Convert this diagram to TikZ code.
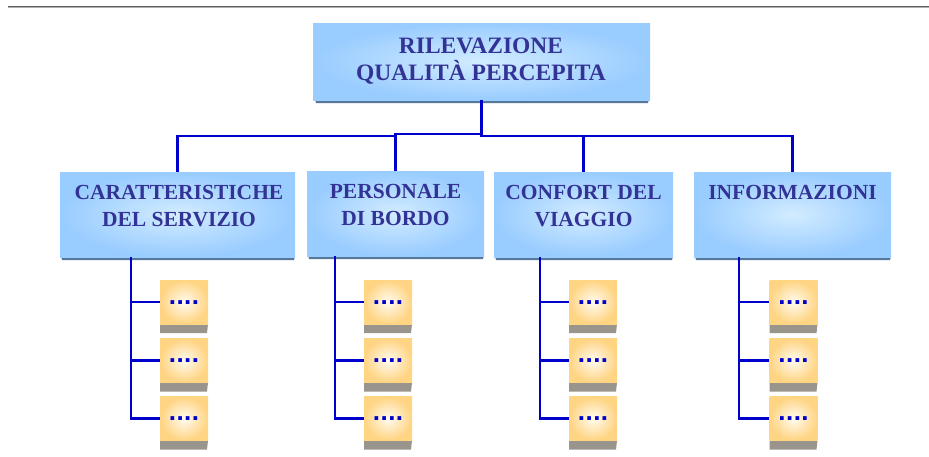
\documentclass[tikz,border=0pt]{standalone}
\usepackage{fontspec}
\setmainfont{Liberation Serif}
\newfontfamily\dotfont{Liberation Sans}
\definecolor{connc}{RGB}{0,0,204}
\definecolor{txtc}{RGB}{51,51,150}
\definecolor{boxout}{RGB}{153,204,255}
\definecolor{boxin}{RGB}{210,236,255}
\definecolor{shadc}{RGB}{85,120,155}
\definecolor{leafout}{RGB}{255,212,130}
\definecolor{leafin}{RGB}{255,251,240}
\definecolor{leafbar}{RGB}{153,148,140}
\begin{document}
\begin{tikzpicture}[x=1pt,y=-1pt,
  conn/.style={draw=connc, line width=2.1pt},
  bluebox/.style={rectangle, shade, inner color=boxin, outer color=boxout, inner sep=0pt},
  boxshadow/.style={fill=shadc},
  toptext/.style={inner sep=0pt, align=center, text=txtc, font=\fontsize{23.5}{27}\selectfont\bfseries},
  midtext/.style={inner sep=0pt, align=center, text=txtc, font=\fontsize{21.5}{27}\selectfont\bfseries},
  leaf/.style={rectangle, shade, inner color=leafin, outer color=leafout, inner sep=0pt,
    minimum width=48pt, minimum height=44pt, text=connc, font=\dotfont\fontsize{26}{26}\selectfont\bfseries},
  leafshadow/.style={fill=leafbar}]
\useasboundingbox (0,0) rectangle (929,456);
% top rule
\draw[line width=1.4pt, draw={rgb,255:red,95;green,95;blue,95}] (8,6.7) -- (929,6.7);
\draw[line width=1.0pt, draw={rgb,255:red,175;green,175;blue,175}] (8,7.9) -- (929,7.9);

% coordinates
\coordinate (busA) at (0,134);
\coordinate (busB) at (0,136);
\coordinate (s1) at (131,257);
\coordinate (s2) at (335,256);
\coordinate (s3) at (540,257);
\coordinate (s4) at (739,257);

% shadows of blue boxes
\fill[boxshadow] (315,99) -- (649,99) -- (648,103) -- (316,103) -- cycle;
\fill[boxshadow] (61,256) -- (295,256) -- (294,260) -- (62,260) -- cycle;
\fill[boxshadow] (308,255) -- (484,255) -- (483,259) -- (309,259) -- cycle;
\fill[boxshadow] (495,256) -- (673,256) -- (672,260) -- (496,260) -- cycle;
\fill[boxshadow] (695,256) -- (891,256) -- (890,260) -- (696,260) -- cycle;

% blue boxes
\node[bluebox, minimum width=337pt, minimum height=77pt] (top) at (481.5,61.5) {};
\node[bluebox, minimum width=235pt, minimum height=85pt] (c1) at (177.5,214.5) {};
\node[bluebox, minimum width=177pt, minimum height=85pt] (c2) at (395.5,213.5) {};
\node[bluebox, minimum width=179pt, minimum height=85pt] (c3) at (583.5,214.5) {};
\node[bluebox, minimum width=197pt, minimum height=85pt] (c4) at (792.5,214.5) {};

% texts
\node[toptext, anchor=north] (ttop) at (481,37.3) {RILEVAZIONE\\QUALITÀ PERCEPITA};
\node[midtext, anchor=north] (t1) at (179,185) {CARATTERISTICHE\\DEL SERVIZIO};
\node[midtext, anchor=north] (t2) at (395.5,184) {PERSONALE\\DI BORDO};
\node[midtext, anchor=north] (t3) at (583.5,185) {CONFORT DEL\\VIAGGIO};
\node[midtext, anchor=north] (t4) at (792.5,185) {INFORMAZIONI};

% bus connectors
\draw[conn] (top.south) |- (c2.north |- busA) -- (c2.north);
\draw[conn] (top.south |- busA) -- (top.south |- busB) -| (c4.north);
\draw[conn] (c2.north |- busA) -- (c2.north |- busB) -| (c1.north);
\draw[conn] (c3.north |- busB) -- (c3.north);

% leaves
\foreach \g/\x in {1/184, 2/388, 3/593, 4/793.5} {
  \foreach \i/\y in {1/302, 2/360.5, 3/418.5} {
    \fill[leafshadow] (\x-24,\y+22) -- (\x+24,\y+22) -- (\x+23,\y+31) -- (\x-24,\y+31) -- cycle;
    \node[leaf] (l\g\i) at (\x,\y) {\smash{\raisebox{-2pt}{.\kern0.5pt.\kern0.5pt.\kern0.5pt.}}};
  }
}

% leaf connectors
\foreach \g in {1,2,3,4} {
  \draw[conn] (s\g) |- (l\g3.west);
  \draw[conn] (s\g |- l\g1.west) -- (l\g1.west);
  \draw[conn] (s\g |- l\g2.west) -- (l\g2.west);
}
\end{tikzpicture}
\end{document}
